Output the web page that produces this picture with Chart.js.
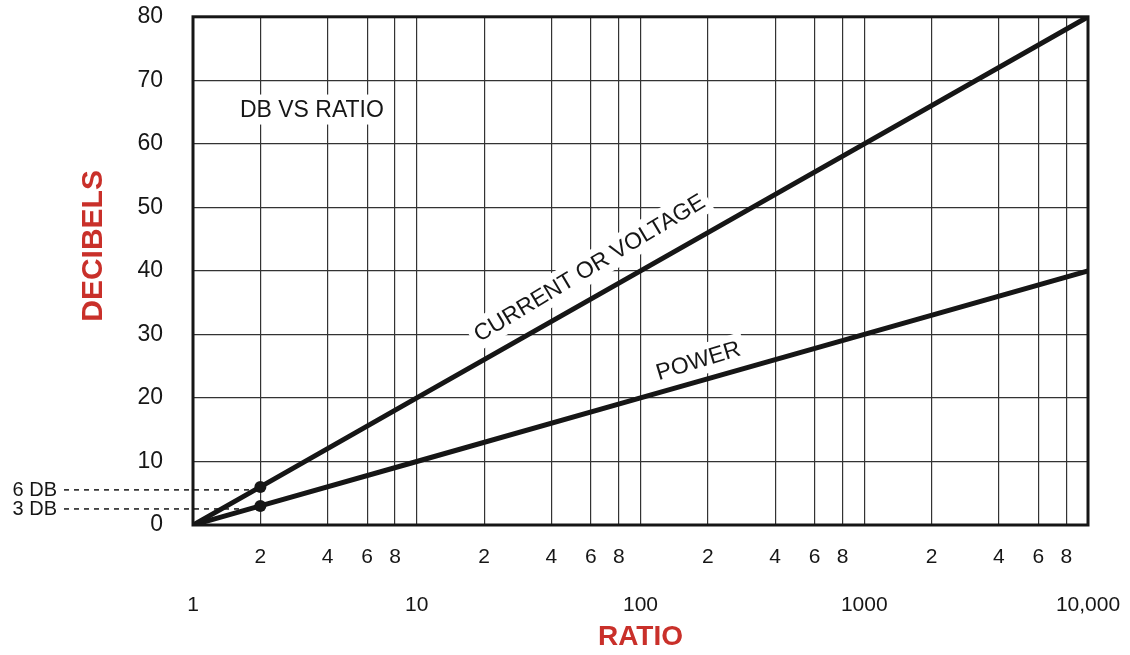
<!DOCTYPE html>
<html lang="en">
<head>
  <meta charset="UTF-8">
  <title>DB vs Ratio</title>
  <script src="https://cdn.jsdelivr.net/npm/chart.js"></script>
  <style>
    html, body { margin: 0; padding: 0; background: #fff; }
    #wrap { width: 1130px; height: 655px; }
  </style>
</head>
<body>
  <div id="wrap"><canvas id="dbChart"></canvas></div>

<script>
  // values
  const ratios = [1, 2, 10, 100, 1000, 10000];
  const currentDb = [0, 6, 20, 40, 60, 80];
  const powerDb = [0, 3, 10, 20, 30, 40];

  const markedRatio = 2;
  const markedDb = [6, 3];
  const markedLabels = ['6 DB', '3 DB'];

  const ratioTicks = [1, 2, 4, 6, 8, 10, 20, 40, 60, 80, 100, 200, 400, 600, 800,
                      1000, 2000, 4000, 6000, 8000, 10000];
  const minorTickLabels = ['', '2', '4', '6', '8', '', '2', '4', '6', '8', '', '2', '4', '6', '8',
                           '', '2', '4', '6', '8', ''];
  const decadeTickLabels = ['1', '', '', '', '', '10', '', '', '', '', '100', '', '', '', '',
                            '1000', '', '', '', '', '10,000'];
  const dbTicks = [0, 10, 20, 30, 40, 50, 60, 70, 80];

  const RED = '#c9302a';
  const INK = '#161616';
  const FONT = '"Liberation Sans", Arial, Helvetica, sans-serif';

  // text written on the chart, placed in data coordinates
  const notes = [
    { text: 'DB VS RATIO', ratio: 1.62, db: 65.4, angle: 0, align: 'left' },
    { text: 'CURRENT OR VOLTAGE', ratio: 59, db: 40.5, angle: 31, align: 'center' },
    { text: 'POWER', ratio: 181, db: 25.9, angle: 17, align: 'center' }
  ];

  const overlay = {
    id: 'overlay',
    beforeDatasetsDraw(chart) {
      const { ctx, scales: { x, y } } = chart;
      ctx.save();
      ctx.font = '23px ' + FONT;
      notes.forEach(n => {
        const px = x.getPixelForValue(n.ratio);
        const py = y.getPixelForValue(n.db);
        const w = ctx.measureText(n.text).width;
        const x0 = n.align === 'left' ? 0 : -w / 2;
        ctx.save();
        ctx.translate(px, py);
        ctx.rotate(-n.angle * Math.PI / 180);
        ctx.fillStyle = '#fff';
        ctx.fillRect(x0 - 5, -15, w + 10, 30);
        ctx.fillStyle = INK;
        ctx.textAlign = 'left';
        ctx.textBaseline = 'middle';
        ctx.fillText(n.text, x0, 1);
        ctx.restore();
      });
      ctx.restore();
    },
    afterDatasetsDraw(chart) {
      const { ctx, chartArea: a, scales: { x, y } } = chart;
      ctx.save();
      // frame round the plot
      ctx.strokeStyle = INK;
      ctx.lineWidth = 3;
      ctx.strokeRect(a.left, a.top, a.right - a.left, a.bottom - a.top);

      // dashed leaders for the 6 DB / 3 DB points
      const px = x.getPixelForValue(markedRatio);
      ctx.lineWidth = 1.5;
      ctx.setLineDash([5, 5]);
      ctx.font = '20px ' + FONT;
      ctx.textAlign = 'right';
      ctx.textBaseline = 'middle';
      markedDb.forEach((v, i) => {
        const py = y.getPixelForValue(v) + 3;
        ctx.beginPath();
        ctx.moveTo(64, py);
        ctx.lineTo(px - 4, py);
        ctx.stroke();
        ctx.fillStyle = INK;
        ctx.fillText(markedLabels[i], 57, py + 1);
      });
      ctx.restore();
    }
  };

  const toPoints = vals => ratios.map((r, i) => ({ x: r, y: vals[i] }));
  const dotRadius = c => (c.raw && c.raw.x === markedRatio ? 6 : 0);

  new Chart(document.getElementById('dbChart'), {
    type: 'scatter',
    data: {
      datasets: [
        {
          label: 'Current or voltage',
          data: toPoints(currentDb),
          showLine: true,
          borderColor: INK,
          backgroundColor: INK,
          borderWidth: 5,
          pointRadius: dotRadius,
          pointBorderWidth: 0
        },
        {
          label: 'Power',
          data: toPoints(powerDb),
          showLine: true,
          borderColor: INK,
          backgroundColor: INK,
          borderWidth: 5,
          pointRadius: dotRadius,
          pointBorderWidth: 0
        }
      ]
    },
    options: {
      responsive: true,
      maintainAspectRatio: false,
      animation: false,
      layout: { padding: { top: 15, right: 42, left: 0, bottom: 0 } },
      plugins: {
        legend: { display: false },
        tooltip: { enabled: false }
      },
      scales: {
        x: {
          type: 'logarithmic',
          min: 1,
          max: 10000,
          afterBuildTicks: s => { s.ticks = ratioTicks.map(v => ({ value: v })); },
          afterFit: s => { s.height = 130; },
          grid: { color: '#333', lineWidth: 1.2, drawTicks: false },
          border: { display: false },
          ticks: {
            autoSkip: false,
            maxRotation: 0,
            minRotation: 0,
            padding: 8,
            color: INK,
            font: { family: FONT, size: 21, lineHeight: '48px' },
            callback: (v, i) => decadeTickLabels[i] ? [minorTickLabels[i], decadeTickLabels[i]] : minorTickLabels[i]
          },
          title: {
            display: true,
            text: 'RATIO',
            color: RED,
            font: { family: FONT, size: 28, weight: 'bold' },
            padding: { top: 0, bottom: 1 }
          }
        },
        y: {
          min: 0,
          max: 80,
          afterBuildTicks: s => { s.ticks = dbTicks.map(v => ({ value: v })); },
          afterFit: s => { s.width = 193; },
          grid: { color: '#333', lineWidth: 1.2, drawTicks: true, tickLength: 27, tickColor: 'rgba(0,0,0,0)' },
          border: { display: false },
          ticks: {
            padding: 3,
            color: INK,
            font: { family: FONT, size: 23 }
          },
          title: {
            display: true,
            text: '      DECIBELS',
            color: RED,
            font: { family: FONT, size: 30, weight: 'bold' },
            padding: { top: 76, bottom: 0 }
          }
        }
      }
    },
    plugins: [overlay]
  });
</script>
</body>
</html>
